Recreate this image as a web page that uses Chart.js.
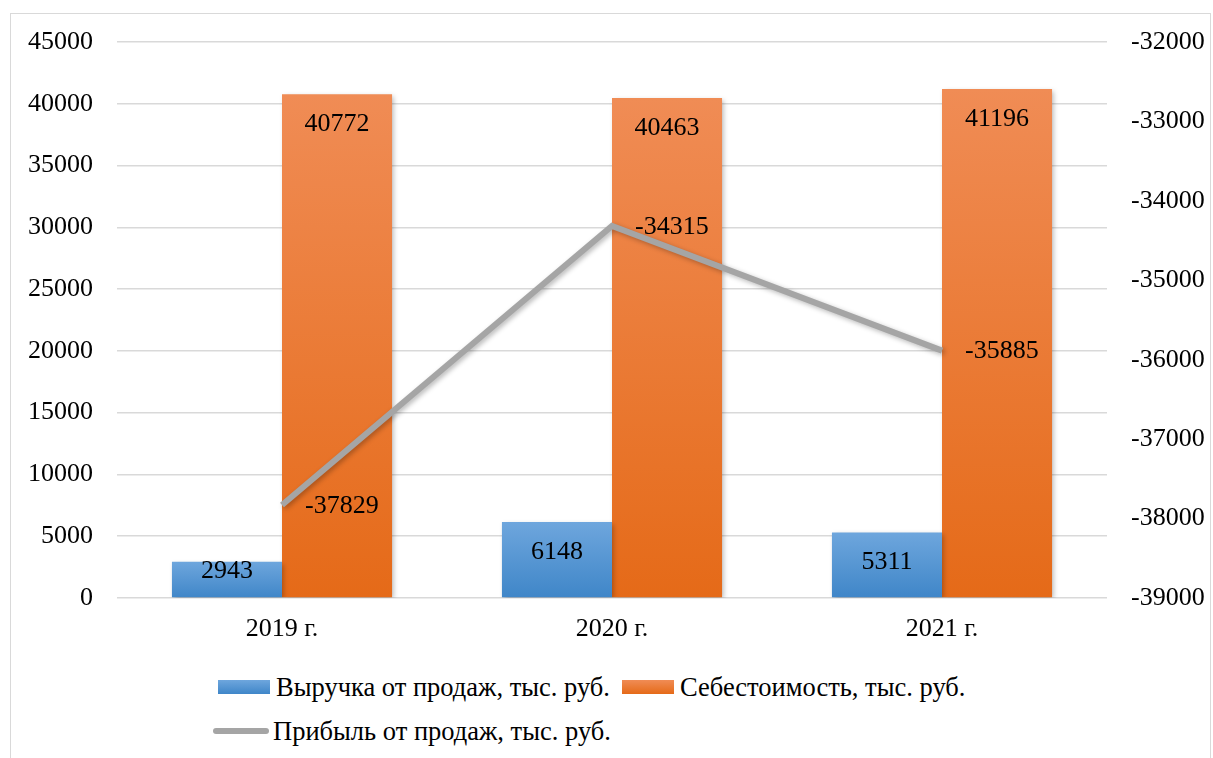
<!DOCTYPE html>
<html>
<head>
<meta charset="utf-8">
<script src="https://cdn.jsdelivr.net/npm/chart.js@4"></script>
<style>
  html, body { margin:0; padding:0; background:#fff; width:1213px; height:758px; overflow:hidden; }
  #frame { position:absolute; left:10px; top:13px; width:1201px; height:800px; border:1px solid #d9d9d9; box-sizing:border-box; }
  #wrap { position:absolute; left:0; top:0; width:1213px; height:658px; }
  #legend { position:absolute; left:0; top:0; font-family:"Liberation Serif","Times New Roman",serif; font-size:26.5px; color:#000; }
  .item { position:absolute; display:flex; align-items:center; white-space:nowrap; line-height:30px; }
  .box { display:inline-block; width:52px; height:14px; margin-right:6px; }
  .ln { display:inline-block; width:56px; height:6px; border-radius:3px; background:#a5a5a5; margin-right:4px; }
</style>
</head>
<body>
<div id="frame"></div>
<div id="wrap"><canvas id="c" width="1213" height="658"></canvas></div>
<div id="legend"></div>
<script>
const categories = ["2019 г.", "2020 г.", "2021 г."];
const revenue = [2943, 6148, 5311];
const cost = [40772, 40463, 41196];
const profit = [-37829, -34315, -35885];
const seriesNames = ["Выручка от продаж, тыс. руб.", "Себестоимость, тыс. руб.", "Прибыль от продаж, тыс. руб."];

const FONT = "Liberation Serif";
Chart.defaults.font.family = FONT;
Chart.defaults.font.size = 26;
Chart.defaults.color = '#000';

function barGradient(top, bottom) {
  return function(ctx) {
    const chart = ctx.chart;
    if (!chart.chartArea || ctx.type !== 'data') return bottom;
    const ys = chart.scales.y;
    const v = ctx.parsed ? ctx.parsed.y : 0;
    const y0 = ys.getPixelForValue(v);
    const y1 = ys.getPixelForValue(0);
    if (!isFinite(y0) || !isFinite(y1) || y0 === y1) return bottom;
    const g = chart.ctx.createLinearGradient(0, y0, 0, y1);
    g.addColorStop(0, top);
    g.addColorStop(1, bottom);
    return g;
  };
}

const shadowPlugin = {
  id: 'shadow',
  beforeDatasetDraw(chart, args) {
    const c = chart.ctx;
    c.save();
    c.shadowColor = 'rgba(0,0,0,0.28)';
    c.shadowBlur = 5;
    c.shadowOffsetX = 2;
    c.shadowOffsetY = 2;
  },
  afterDatasetDraw(chart) { chart.ctx.restore(); }
};

const labelPlugin = {
  id: 'labels',
  afterDatasetsDraw(chart) {
    const c = chart.ctx;
    c.save();
    c.font = "26px '" + FONT + "'";
    c.fillStyle = '#000';
    chart.data.datasets.forEach((ds, di) => {
      const meta = chart.getDatasetMeta(di);
      meta.data.forEach((el, i) => {
        const val = ds.data[i];
        if (ds.type === 'line') {
          c.textAlign = 'left';
          c.textBaseline = 'middle';
          c.fillText(String(val), el.x + 23, el.y + 1);
        } else {
          c.textAlign = 'center';
          c.textBaseline = 'middle';
          const y = Math.min(el.y + 30, el.base - 26);
          c.fillText(String(val), el.x, y);
        }
      });
    });
    c.restore();
  }
};

const plain = v => String(v);

new Chart(document.getElementById('c'), {
  data: {
    labels: categories,
    datasets: [
      { type: 'line', label: seriesNames[2], data: profit, yAxisID: 'y1', order: 0,
        borderColor: '#a5a5a5', borderWidth: 6, pointRadius: 0, tension: 0, fill: false,
        borderJoinStyle: 'miter', borderCapStyle: 'butt' },
      { type: 'bar', label: seriesNames[0], data: revenue, yAxisID: 'y', order: 1,
        backgroundColor: barGradient('#6ea6dd', '#3f86c8'), borderWidth: 0,
        categoryPercentage: 0.667, barPercentage: 1.0 },
      { type: 'bar', label: seriesNames[1], data: cost, yAxisID: 'y', order: 1,
        backgroundColor: barGradient('#f08c55', '#e56a18'), borderWidth: 0,
        categoryPercentage: 0.667, barPercentage: 1.0 }
    ]
  },
  options: {
    responsive: false,
    animation: false,
    layout: { padding: { top: 42, left: 0, right: 0, bottom: 0 } },
    plugins: { legend: { display: false }, tooltip: { enabled: false } },
    scales: {
      x: {
        grid: { display: false, drawTicks: false },
        border: { display: false },
        ticks: { font: { family: FONT, size: 26 }, color: '#000', padding: 16 },
        afterFit(s) { s.height = 60; }
      },
      y: {
        position: 'left', min: 0, max: 45000,
        ticks: { stepSize: 5000, font: { family: FONT, size: 26 }, color: '#000', padding: 24, callback: plain },
        grid: { color: '#d9d9d9', lineWidth: 1.5, drawTicks: false },
        border: { display: false },
        afterFit(s) { s.width = 117; }
      },
      y1: {
        position: 'right', min: -39000, max: -32000,
        ticks: { stepSize: 1000, font: { family: FONT, size: 26 }, color: '#000', padding: 24, callback: plain },
        grid: { display: false, drawTicks: false },
        border: { display: false },
        afterFit(s) { s.width = 106; }
      }
    }
  },
  plugins: [shadowPlugin, labelPlugin]
});

// HTML legend
const lg = document.getElementById('legend');
function addItem(left, top, swatchHtml, text) {
  const d = document.createElement('div');
  d.className = 'item';
  d.style.left = left + 'px';
  d.style.top = top + 'px';
  d.innerHTML = swatchHtml + '<span>' + text + '</span>';
  lg.appendChild(d);
}
addItem(218, 672, '<span class="box" style="background:linear-gradient(#6ea6dd,#3f86c8)"></span>', seriesNames[0]);
addItem(622, 672, '<span class="box" style="background:linear-gradient(#f08c55,#e56a18)"></span>', seriesNames[1]);
addItem(213, 716, '<span class="ln"></span>', seriesNames[2]);
</script>
</body>
</html>
